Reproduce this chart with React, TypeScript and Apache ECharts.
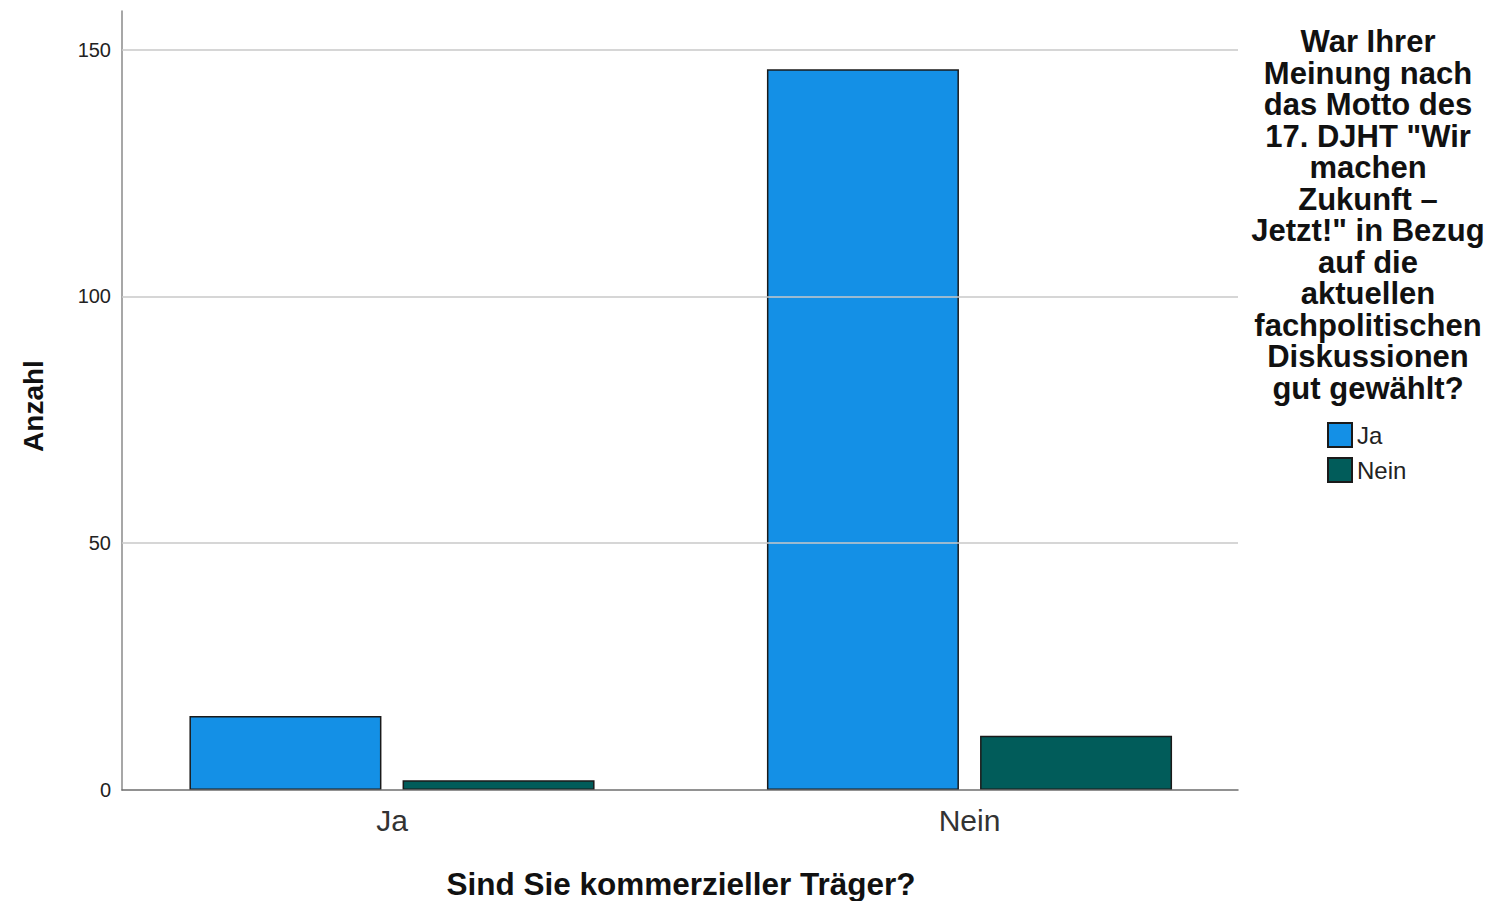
import React, { useEffect, useRef } from "react";
import * as echarts from "echarts";

const categories = ["Ja", "Nein"];
const seriesNames = ["Ja", "Nein"];
const valuesJa = [15, 146];
const valuesNein = [2, 11];
const gridValues = [50, 100, 150];
const yMax = 157.8;
const yTitle = "Anzahl";
const xTitle = "Sind Sie kommerzieller Träger?";
const legendTitle =
  'War Ihrer\nMeinung nach\ndas Motto des\n17. DJHT "Wir\nmachen\nZukunft –\nJetzt!" in Bezug\nauf die\naktuellen\nfachpolitischen\nDiskussionen\ngut gewählt?';

const FONT = "'Liberation Sans', Arial, sans-serif";

export default function App() {
  const ref = useRef<HTMLDivElement>(null);
  useEffect(() => {
    if (!ref.current) return;
    const chart = echarts.init(ref.current, undefined, { renderer: "svg" });
    chart.setOption({
      animation: false,
      backgroundColor: "#ffffff",
      textStyle: { fontFamily: FONT },
      grid: [
        { left: 122, right: 263, top: 11, bottom: 111, outerBoundsMode: "none", containLabel: false },
        { left: 103.25, right: 242.75, top: 11, bottom: 111, outerBoundsMode: "none", containLabel: false },
      ],
      xAxis: [
        {
          type: "category",
          gridIndex: 0,
          data: categories,
          axisLine: { show: true, lineStyle: { color: "#6e6e6e", width: 1.5 } },
          axisTick: { show: false },
          axisLabel: { show: false },
          splitLine: { show: false },
          z: 5,
        },
        {
          type: "category",
          gridIndex: 1,
          data: categories,
          axisLine: { show: false },
          axisTick: { show: false },
          axisLabel: { fontSize: 30, color: "#333333", margin: 15, fontFamily: FONT },
        },
      ],
      yAxis: [
        {
          type: "value",
          gridIndex: 0,
          min: 0,
          max: yMax,
          interval: 50,
          axisLine: { show: true, lineStyle: { color: "#8a8a8a", width: 1.5 } },
          axisTick: { show: false },
          axisLabel: {
            fontSize: 20,
            color: "#222222",
            margin: 11,
            showMaxLabel: false,
            padding: [6, 0, 0, 0],
            fontFamily: FONT,
          },
          splitLine: { show: false },
        },
        {
          type: "value",
          gridIndex: 1,
          min: 0,
          max: yMax,
          show: false,
          splitLine: { show: false },
        },
      ],
      legend: {
        orient: "vertical",
        left: 1327,
        top: 422,
        padding: 0,
        itemWidth: 24,
        itemHeight: 24,
        itemGap: 9,
        icon: "rect",
        data: seriesNames,
        textStyle: { fontSize: 24, lineHeight: 24, color: "#222222", fontFamily: FONT },
      },
      graphic: [
        {
          type: "text",
          x: 1368,
          y: 26,
          style: {
            text: legendTitle,
            textAlign: "center",
            textVerticalAlign: "top",
            font: `bold 31px ${FONT}`,
            lineHeight: 31.5,
            fill: "#111111",
          },
        },
        {
          type: "text",
          x: 33,
          y: 406,
          rotation: Math.PI / 2,
          style: {
            text: yTitle,
            textAlign: "center",
            textVerticalAlign: "middle",
            font: `bold 28px ${FONT}`,
            fill: "#111111",
          },
        },
        {
          type: "text",
          x: 681,
          y: 884,
          style: {
            text: xTitle,
            textAlign: "center",
            textVerticalAlign: "middle",
            font: `bold 31.5px ${FONT}`,
            fill: "#111111",
          },
        },
      ],
      series: [
        {
          type: "line",
          xAxisIndex: 0,
          yAxisIndex: 0,
          data: [null, null],
          showSymbol: false,
          silent: true,
          z: 1,
          markLine: {
            silent: true,
            symbol: "none",
            label: { show: false },
            lineStyle: { color: "#c8c8c8", width: 1.5, type: "solid" },
            data: gridValues.map((v) => ({ yAxis: v })),
          },
        },
        {
          name: seriesNames[0],
          type: "bar",
          xAxisIndex: 1,
          yAxisIndex: 1,
          data: valuesJa,
          barWidth: 192,
          barGap: "11%",
          z: 3,
          itemStyle: { color: "#1490E6", borderColor: "#1a1a1a", borderWidth: 1.5 },
        },
        {
          name: seriesNames[1],
          type: "bar",
          xAxisIndex: 1,
          yAxisIndex: 1,
          data: valuesNein,
          barWidth: 192,
          barGap: "11%",
          z: 3,
          itemStyle: { color: "#015C5A", borderColor: "#1a1a1a", borderWidth: 1.5 },
        },
      ],
    });
    return () => chart.dispose();
  }, []);
  return <div ref={ref} style={{ width: 1501, height: 901, position: "absolute", left: 0, top: 0 }} />;
}
